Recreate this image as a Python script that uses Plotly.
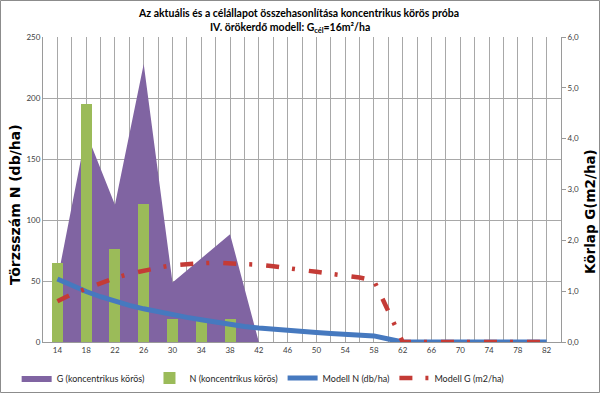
import plotly.graph_objects as go

# ---- data ----
categories = [14, 16, 18, 20, 22, 24, 26, 28, 30, 32, 34, 36, 38, 40, 42, 44, 46, 48,
              50, 52, 54, 56, 58, 60, 62, 64, 66, 68, 70, 72, 74, 76, 78, 80, 82]
tick_labels = [14, 18, 22, 26, 30, 34, 38, 42, 46, 50, 54, 58, 62, 66, 70, 74, 78, 82]

g_x = [14, 18, 22, 26, 30, 34, 38, 42]
g_koncentrikus = [1.22, 4.12, 2.70, 5.47, 1.17, 1.65, 2.12, 0.0]

n_x = [14, 18, 22, 26, 30, 34, 38]
n_koncentrikus = [65, 195, 76, 113, 19, 19, 19]

modell_n = [51.6, 46.3, 41.4, 37.1, 33.2, 30.0, 27.2, 24.6, 22.3, 20.2, 18.2, 16.1, 14.2,
            12.7, 11.4, 10.3, 9.3, 8.6, 7.8, 7.0, 6.3, 5.6, 5.0, 2.5, 0.0,
            0, 0, 0, 0, 0, 0, 0, 0, 0, 0]
modell_g = [0.80, 0.94, 1.05, 1.16, 1.26, 1.34, 1.41, 1.46, 1.51, 1.54, 1.55, 1.56, 1.55,
            1.54, 1.52, 1.49, 1.46, 1.43, 1.38, 1.34, 1.31, 1.27, 1.21, 0.60, 0.0,
            0, 0, 0, 0, 0, 0, 0, 0, 0, 0]

FONT = "Lato"
TFONT = "DejaVu Sans"
GRID = "#a8a8a8"
AXIS = "#9a9a9a"

fig = go.Figure()
fig.add_trace(go.Scatter(x=g_x, y=g_koncentrikus, name="G (koncentrikus körös)",
                         mode="lines", fill="tozeroy", fillcolor="#8064A2",
                         line=dict(width=0, color="#8064A2"), yaxis="y"))
fig.add_trace(go.Bar(x=n_x, y=n_koncentrikus, name="N (koncentrikus körös)",
                     marker=dict(color="#9BBB59", line=dict(width=0)), width=1.53,
                     yaxis="y2"))
fig.add_trace(go.Scatter(x=categories, y=modell_n, name="Modell N (db/ha)", mode="lines",
                         line=dict(color="#4679BF", width=5), yaxis="y2"))
fig.add_trace(go.Scatter(x=categories, y=modell_g, name="Modell G (m2/ha)", mode="lines",
                         line=dict(color="#C43B36", width=4.5, dash="13px,13px,3px,14px"),
                         yaxis="y3"))

fig.update_layout(
    width=600, height=393,
    margin=dict(l=43, r=39, t=37, b=51, autoexpand=False),
    paper_bgcolor="white", plot_bgcolor="white",
    separators=", ",
    font=dict(family=FONT, size=8, color="#404040"),
    showlegend=True,
    legend=dict(orientation="h", x=0.425, xanchor="center", y=-0.118, yanchor="middle",
                font=dict(family=FONT, size=9, color="#262626"),
                bgcolor="rgba(0,0,0,0)", itemwidth=30, tracegroupgap=0),
    xaxis=dict(range=[12, 84], tickmode="array", tickvals=tick_labels,
               ticktext=[str(t) for t in tick_labels], showgrid=True, gridcolor=GRID,
               gridwidth=1, showline=True, linecolor=AXIS, linewidth=1, ticks="",
               zeroline=False, tickfont=dict(size=8, color="#404040"),
               minor=dict(dtick=2, tick0=12, showgrid=True, gridcolor=GRID, gridwidth=1,
                          ticks="")),
    yaxis=dict(side="right", range=[0, 6], dtick=1, tickformat=".1f", showgrid=False,
               showline=True, linecolor=AXIS, linewidth=1, ticks="outside", ticklen=4,
               tickcolor=AXIS, zeroline=False, tickfont=dict(size=8, color="#404040")),
    yaxis2=dict(side="left", overlaying="y", anchor="x", range=[0, 250], dtick=50,
                showgrid=True, gridcolor=GRID, gridwidth=1, showline=True,
                linecolor=AXIS, linewidth=1, ticks="", zeroline=False,
                tickfont=dict(size=8, color="#404040")),
    yaxis3=dict(overlaying="y", anchor="x", range=[0, 6], visible=False, showgrid=False),
    bargap=0,
)

ann = []
ann.append(dict(text="<b>Az aktuális és a célállapot összehasonlítása koncentrikus körös próba</b>",
                xref="paper", yref="paper", x=(298 - 43) / 518, y=(342 - 13) / 305,
                showarrow=False, xanchor="center", yanchor="middle",
                font=dict(family=FONT, size=10.5, color="#000000")))
ann.append(dict(text="<b>IV. örökerdő modell: G<sub>cél</sub>=16m²/ha</b>",
                xref="paper", yref="paper", x=(290 - 43) / 518, y=(342 - 28) / 305,
                showarrow=False, xanchor="center", yanchor="middle",
                font=dict(family=FONT, size=10.5, color="#000000")))
ann.append(dict(text="<b>Törzsszám N (db/ha)</b>", textangle=-90,
                xref="paper", yref="paper", x=(15 - 43) / 518, y=(342 - 205) / 305,
                showarrow=False, xanchor="center", yanchor="middle",
                font=dict(family=TFONT, size=14, color="#000000")))
ann.append(dict(text="<b>Körlap G(m2/ha)</b>", textangle=-90,
                xref="paper", yref="paper", x=(590 - 43) / 518, y=(342 - 212) / 305,
                showarrow=False, xanchor="center", yanchor="middle",
                font=dict(family=TFONT, size=13.5, color="#000000")))
fig.update_layout(annotations=ann)

fig.add_shape(type="rect", xref="paper", yref="paper",
              x0=(0.5 - 43) / 518, x1=(599.5 - 43) / 518,
              y0=(342 - 392.5) / 305, y1=(342 - 0.5) / 305,
              line=dict(color="#8c8c8c", width=1), fillcolor="rgba(0,0,0,0)", layer="below")

fig.write_html("out.html", config={"displayModeBar": False},
               post_script="document.body.style.margin='0';document.body.style.overflow='hidden';")
